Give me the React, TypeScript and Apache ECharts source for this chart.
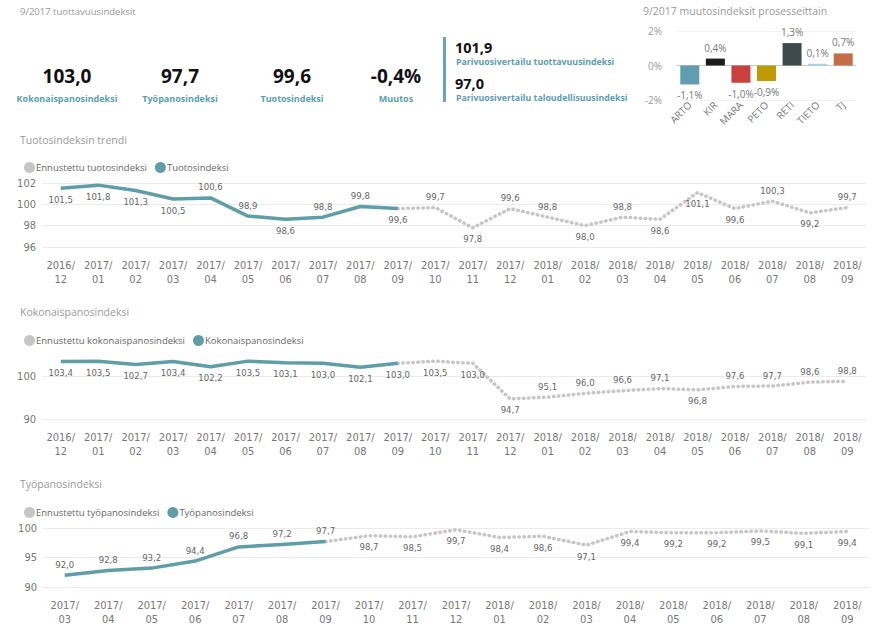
import React, { useEffect, useRef } from "react";
import * as echarts from "echarts";

// ---------- DATA ----------
const processNames = ["ARTO", "KIR", "MARA", "PETO", "RETI", "TIETO", "TJ"];
const processChange = [-1.1, 0.4, -1.0, -0.9, 1.3, 0.1, 0.7];
const processColors = ["#5f9eb0", "#1c1c1c", "#c9403d", "#bf9a06", "#3f4a4c", "#9ad8f0", "#c46e48"];

const kpiValues = ["103,0", "97,7", "99,6", "-0,4%"];
const kpiNames = ["Kokonaispanosindeksi", "Työpanosindeksi", "Tuotosindeksi", "Muutos"];
const pairValues = ["101,9", "97,0"];
const pairNames = ["Parivuosivertailu tuottavuusindeksi", "Parivuosivertailu taloudellisuusindeksi"];

const monthsA = [
  "2016/12", "2017/01", "2017/02", "2017/03", "2017/04", "2017/05", "2017/06", "2017/07",
  "2017/08", "2017/09", "2017/10", "2017/11", "2017/12", "2018/01", "2018/02", "2018/03",
  "2018/04", "2018/05", "2018/06", "2018/07", "2018/08", "2018/09",
];
const monthsB = [
  "2017/03", "2017/04", "2017/05", "2017/06", "2017/07", "2017/08", "2017/09", "2017/10",
  "2017/11", "2017/12", "2018/01", "2018/02", "2018/03", "2018/04", "2018/05", "2018/06",
  "2018/07", "2018/08", "2018/09",
];

// Tuotosindeksi
const outputActual = [101.5, 101.8, 101.3, 100.5, 100.6, 98.9, 98.6, 98.8, 99.8, 99.6];
const outputForecast = [99.6, 99.7, 97.8, 99.6, 98.8, 98.0, 98.8, 98.6, 101.1, 99.6, 100.3, 99.2, 99.7];
// Kokonaispanosindeksi
const totalActual = [103.4, 103.5, 102.7, 103.4, 102.2, 103.5, 103.1, 103.0, 102.1, 103.0];
const totalForecast = [103.0, 103.5, 103.0, 94.7, 95.1, 96.0, 96.6, 97.1, 96.8, 97.6, 97.7, 98.6, 98.8];
// Työpanosindeksi
const laborActual = [92.0, 92.8, 93.2, 94.4, 96.8, 97.2, 97.7];
const laborForecast = [97.7, 98.7, 98.5, 99.7, 98.4, 98.6, 97.1, 99.4, 99.2, 99.2, 99.5, 99.1, 99.4];

// label sides (t = above, b = below, "" = none)
const outputActualSide = ["b", "b", "b", "b", "t", "t", "b", "t", "t", "b"];
const outputForecastSide = ["", "t", "b", "t", "t", "b", "t", "b", "b", "b", "t", "b", "t"];
const totalActualSide = ["b", "b", "b", "b", "b", "b", "b", "b", "b", "b"];
const totalForecastSide = ["", "b", "b", "b", "t", "t", "t", "t", "b", "t", "t", "t", "t"];
const laborActualSide = ["t", "t", "t", "t", "t", "t", "t"];
const laborForecastSide = ["", "b", "b", "b", "b", "b", "b", "b", "b", "b", "b", "b", "b"];

// ---------- STYLE ----------
const TEAL = "#5f9ea8";
const LABEL_TEAL = "#5c9db3";
const GRAY_LINE = "#c6c6c6";
const FONT = '"Segoe UI", "Open Sans", "Noto Sans", sans-serif';
const NUMFONT = '"DejaVu Sans Condensed", "Liberation Sans Narrow", "Roboto", sans-serif';

const fmt = (v: number) => v.toFixed(1).replace(".", ",");

function buildSeries(values: number[], sides: string[], offset: number, total: number) {
  const out: any[] = [];
  for (let i = 0; i < total; i++) {
    const j = i - offset;
    if (j < 0 || j >= values.length) {
      out.push("-");
    } else {
      const s = sides[j];
      out.push({
        value: values[j],
        label: { show: s !== "", position: s === "t" ? "top" : "bottom" },
      });
    }
  }
  return out;
}

function lineLabel() {
  return {
    show: true,
    color: "#666",
    fontSize: 9.5,
    fontFamily: NUMFONT,
    distance: 6,
    formatter: (p: any) => fmt(p.value),
  };
}

function actualSeries(name: string, idx: number, values: number[], sides: string[], total: number) {
  return {
    name,
    type: "line",
    xAxisIndex: idx,
    yAxisIndex: idx,
    data: buildSeries(values, sides, 0, total),
    symbol: "circle",
    symbolSize: 0,
    showSymbol: true,
    itemStyle: { color: TEAL },
    lineStyle: { color: TEAL, width: 3.5 },
    label: lineLabel(),
    z: 3,
  };
}

function forecastSeries(name: string, idx: number, values: number[], sides: string[], offset: number, total: number) {
  return {
    name,
    type: "line",
    xAxisIndex: idx,
    yAxisIndex: idx,
    data: buildSeries(values, sides, offset, total),
    symbol: "circle",
    symbolSize: 0,
    showSymbol: true,
    itemStyle: { color: GRAY_LINE },
    lineStyle: { color: GRAY_LINE, width: 3.5, type: [0.5, 4.5], cap: "round" },
    label: lineLabel(),
    z: 2,
  };
}

function catAxis(idx: number, cats: string[]) {
  return {
    type: "category",
    gridIndex: idx,
    data: cats,
    boundaryGap: true,
    axisLine: { show: false },
    axisTick: { show: false },
    axisLabel: {
      color: "#777",
      fontSize: 11,
      fontFamily: NUMFONT,
      lineHeight: 14,
      margin: 11,
      interval: 0,
      formatter: (v: string) => v.replace("/", "/\n"),
    },
  };
}

function valAxis(idx: number, min: number, max: number, interval: number) {
  const aligned = (max - min) % interval === 0;
  return {
    type: "value",
    gridIndex: idx,
    min,
    max,
    interval,
    axisLine: { show: false },
    axisTick: { show: false },
    axisLabel: { color: "#777", fontSize: 11, fontFamily: NUMFONT, margin: 6, showMaxLabel: aligned },
    splitLine: { lineStyle: { color: "#ebebeb" }, showMaxLine: aligned },
  };
}

function legend(top: number, names: string[]) {
  return {
    left: 19,
    top,
    data: names,
    icon: "circle",
    itemWidth: 11,
    itemHeight: 11,
    itemGap: 8,
    selectedMode: false,
    textStyle: { color: "#666", fontSize: 9.5, fontFamily: FONT, padding: [0, 0, 0, -4] },
  };
}

export default function App() {
  const ref = useRef<HTMLDivElement>(null);

  useEffect(() => {
    if (!ref.current) return;
    const chart = echarts.init(ref.current, undefined, { renderer: "svg" });

    const kpiCenters = [67, 180, 292, 396];
    const titleStyle = (text: string, size: number) => ({ text, fill: "#999", fontSize: size, fontFamily: FONT });
    const graphics: any[] = [
      { type: "text", left: 20, top: 6, style: titleStyle("9/2017 tuottavuusindeksit", 9.5) },
      { type: "text", left: 643, top: 5, style: titleStyle("9/2017 muutosindeksit prosesseittain", 10.5) },
      { type: "text", left: 20, top: 134, style: titleStyle("Tuotosindeksin trendi", 10.5) },
      { type: "text", left: 20, top: 306, style: titleStyle("Kokonaispanosindeksi", 10.5) },
      { type: "text", left: 20, top: 478, style: titleStyle("Työpanosindeksi", 10.5) },
      { type: "rect", shape: { x: 443, y: 37, width: 3, height: 65 }, style: { fill: "#6aa3b5" } },
    ];
    kpiValues.forEach((v, i) => {
      graphics.push({
        type: "text",
        x: kpiCenters[i],
        y: 76,
        style: { text: v, fill: "#111", fontSize: 19, fontWeight: "bold", fontFamily: FONT, align: "center", verticalAlign: "middle" },
      });
      graphics.push({
        type: "text",
        x: kpiCenters[i],
        y: 98,
        style: { text: kpiNames[i], fill: LABEL_TEAL, fontSize: 9, fontWeight: "bold", fontFamily: FONT, align: "center", verticalAlign: "middle" },
      });
    });
    pairValues.forEach((v, i) => {
      graphics.push({
        type: "text",
        x: 455,
        y: 47 + i * 36,
        style: { text: v, fill: "#111", fontSize: 14.5, fontWeight: "bold", fontFamily: FONT, verticalAlign: "middle" },
      });
      graphics.push({
        type: "text",
        x: 456,
        y: 62 + i * 36,
        style: { text: pairNames[i], fill: LABEL_TEAL, fontSize: 8.8, fontWeight: "bold", fontFamily: FONT, verticalAlign: "middle" },
      });
    });

    const option: any = {
      animation: false,
      backgroundColor: "#fff",
      textStyle: { fontFamily: FONT },
      graphic: graphics,
      legend: [
        legend(157, ["Ennustettu tuotosindeksi", "Tuotosindeksi"]),
        legend(330, ["Ennustettu kokonaispanosindeksi", "Kokonaispanosindeksi"]),
        legend(502, ["Ennustettu työpanosindeksi", "Työpanosindeksi"]),
      ],
      grid: [
        { left: 677, width: 179, top: 31, height: 69 },
        { left: 42, width: 824, top: 183, height: 64 },
        { left: 42, width: 824, top: 359, height: 60 },
        { left: 43, width: 826, top: 528, height: 64 },
      ],
      xAxis: [
        {
          type: "category",
          gridIndex: 0,
          data: processNames,
          axisLine: { show: true, onZero: true, lineStyle: { color: "#c8c8c8" } },
          axisTick: { show: false },
          axisLabel: {
            rotate: 45,
            color: "#777",
            fontSize: 10,
            fontFamily: FONT,
            margin: 3,
            interval: 0,
          },
        },
        catAxis(1, monthsA),
        catAxis(2, monthsA),
        catAxis(3, monthsB),
      ],
      yAxis: [
        {
          type: "value",
          gridIndex: 0,
          min: -2,
          max: 2,
          interval: 2,
          axisLine: { show: false },
          axisTick: { show: false },
          axisLabel: { color: "#999", fontSize: 10, fontFamily: FONT, margin: 15, formatter: (v: number) => v + "%" },
          splitLine: { lineStyle: { color: "#f2f2f2" } },
        },
        valAxis(1, 96, 102, 2),
        valAxis(2, 90, 104, 10),
        valAxis(3, 90, 100, 5),
      ],
      series: [
        {
          type: "bar",
          xAxisIndex: 0,
          yAxisIndex: 0,
          barWidth: 19,
          data: processChange.map((v, i) => ({
            value: v,
            itemStyle: { color: processColors[i] },
            label: { position: v >= 0 ? "top" : "bottom" },
          })),
          label: {
            show: true,
            color: "#777",
            fontSize: 10,
            fontFamily: FONT,
            distance: 6,
            formatter: (p: any) => fmt(p.value) + "%",
          },
        },
        forecastSeries("Ennustettu tuotosindeksi", 1, outputForecast, outputForecastSide, outputActual.length - 1, monthsA.length),
        actualSeries("Tuotosindeksi", 1, outputActual, outputActualSide, monthsA.length),
        forecastSeries("Ennustettu kokonaispanosindeksi", 2, totalForecast, totalForecastSide, totalActual.length - 1, monthsA.length),
        actualSeries("Kokonaispanosindeksi", 2, totalActual, totalActualSide, monthsA.length),
        forecastSeries("Ennustettu työpanosindeksi", 3, laborForecast, laborForecastSide, laborActual.length - 1, monthsB.length),
        actualSeries("Työpanosindeksi", 3, laborActual, laborActualSide, monthsB.length),
      ],
    };

    chart.setOption(option);
    return () => chart.dispose();
  }, []);

  return <div ref={ref} style={{ position: "absolute", left: 0, top: 0, width: 882, height: 626 }} />;
}
